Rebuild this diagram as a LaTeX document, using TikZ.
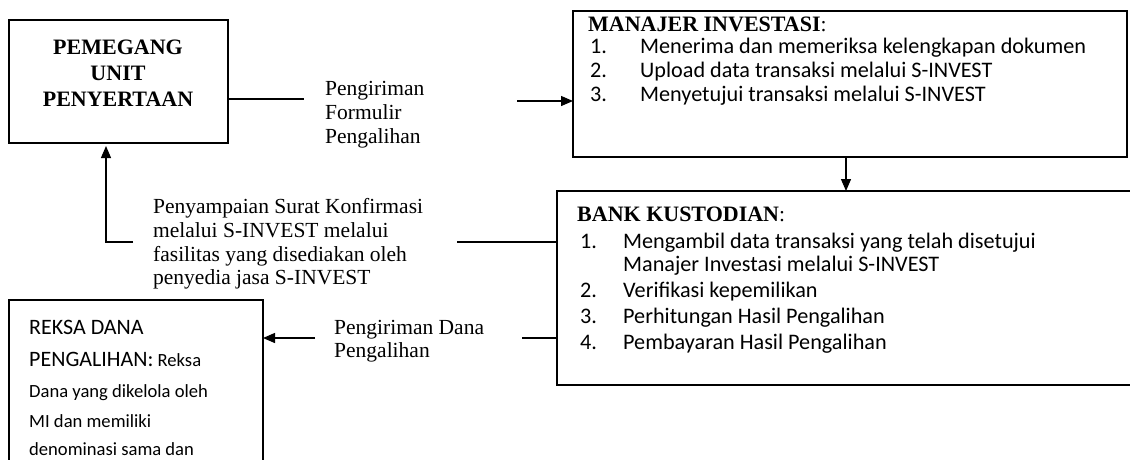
\documentclass[tikz,border=0pt]{standalone}
\usepackage{fontspec}
\setmainfont{Liberation Serif}
\newfontfamily\calfont{Carlito}
\usetikzlibrary{arrows.meta}
\begin{document}
\begin{tikzpicture}[x=1pt,y=-1pt,
  box/.style={draw,line width=2.6pt,inner sep=0,outer sep=0,anchor=north west},
  conn/.style={line width=1.3pt},
  arr/.style={conn,-{Triangle[length=12pt,width=10pt]}},
  tms/.style={font=\fontsize{21.5}{23}\selectfont,inner sep=0,anchor=base west},
  tmsb/.style={font=\bfseries\fontsize{22}{23}\selectfont,inner sep=0,anchor=base},
  cal/.style={font=\calfont\fontsize{22.2}{24}\selectfont,inner sep=0,anchor=base west},
  calh/.style={font=\calfont\fontsize{22}{24}\selectfont,inner sep=0,anchor=base west},
  calb/.style={font=\calfont\fontsize{18.6}{24}\selectfont,inner sep=0,anchor=base west},
]
\useasboundingbox (0,0) rectangle (1130,459);
\clip (0,0) rectangle (1130,459);
% boxes
\node[box,minimum width=219pt,minimum height=123pt] (pup) at (9,20) {};
\node[box,minimum width=554pt,minimum height=146pt] (mi) at (573,11) {};
\node[box,minimum width=620pt,minimum height=194pt] (bk) at (557,191) {};
\node[box,minimum width=254pt,minimum height=220pt] (rd) at (9,300) {};
% PUP text
\node[tmsb] (pupa) at (118,54) {PEMEGANG};
\node[tmsb] (pupb) at (118,80) {UNIT};
\node[tmsb] (pupc) at (118,106) {PENYERTAAN};
% label 1
\node[tms] (la1) at (325,95) {Pengiriman};
\node[tms] (la2) at (325,119) {Formulir};
\node[tms] (la3) at (325,143) {Pengalihan};
% MI text
\node[tms] (mit) at (588,31) {{\fontsize{22}{23}\selectfont\bfseries MANAJER INVESTASI}:};
\node[cal] (mi1n) at (590,53) {1.};
\node[cal] (mi1) at (640,53) {Menerima dan memeriksa kelengkapan dokumen};
\node[cal] (mi2n) at (590,77) {2.};
\node[cal] (mi2) at (640,77) {Upload data transaksi melalui S-INVEST};
\node[cal] (mi3n) at (590,101) {3.};
\node[cal] (mi3) at (640,101) {Menyetujui transaksi melalui S-INVEST};
% BK text
\node[tms] (bkt) at (577,221) {{\fontsize{22}{23}\selectfont\bfseries BANK KUSTODIAN}:};
\node[cal] (bk1n) at (580,248) {1.};
\node[cal] (bk1) at (623,248) {Mengambil data transaksi yang telah disetujui};
\node[cal] (bk1b) at (623,271) {Manajer Investasi melalui S-INVEST};
\node[cal] (bk2n) at (580,297) {2.};
\node[cal] (bk2) at (623,297) {Verifikasi kepemilikan};
\node[cal] (bk3n) at (580,323) {3.};
\node[cal] (bk3) at (623,323) {Perhitungan Hasil Pengalihan};
\node[cal] (bk4n) at (580,349) {4.};
\node[cal] (bk4) at (623,349) {Pembayaran Hasil Pengalihan};
% label 2
\node[tms] (lb1) at (153,213) {Penyampaian Surat Konfirmasi};
\node[tms] (lb2) at (153,237) {melalui S-INVEST melalui};
\node[tms] (lb3) at (153,261) {fasilitas yang disediakan oleh};
\node[tms] (lb4) at (153,284) {penyedia jasa S-INVEST};
% label 3
\node[tms] (lc1) at (334,334) {Pengiriman Dana};
\node[tms] (lc2) at (334,357) {Pengalihan};
% RD text
\node[calh] (rd1) at (29,334) {REKSA DANA};
\node[calh] (rd2) at (29,366) {PENGALIHAN:\fontsize{18.6}{24}\selectfont\ Reksa};
\node[calb] (rd3) at (29,397) {Dana yang dikelola oleh};
\node[calb] (rd4) at (29,427) {MI dan memiliki};
\node[calb] (rd5) at (29,455) {denominasi sama dan};
% connectors
\coordinate (c1) at (304,99);
\draw[conn] (c1 -| pup.east) -- (c1);
\coordinate (c2) at (517,101);
\draw[arr] (c2) -- (c2 -| mi.west);
\coordinate (c3) at (846,0);
\draw[arr] (c3 |- mi.south) -- (c3 |- bk.north);
\coordinate (c4) at (133,242);
\coordinate (c5) at (106,146);
\draw[arr] (c4) -- (c4 -| c5) -- (c5);
\coordinate (c6) at (457,242);
\draw[conn] (c6) -- (c6 -| bk.west);
\coordinate (c7) at (522,338);
\draw[conn] (c7) -- (c7 -| bk.west);
\coordinate (c8) at (315,338);
\draw[arr] (c8) -- (c8 -| rd.east);
\end{tikzpicture}
\end{document}
